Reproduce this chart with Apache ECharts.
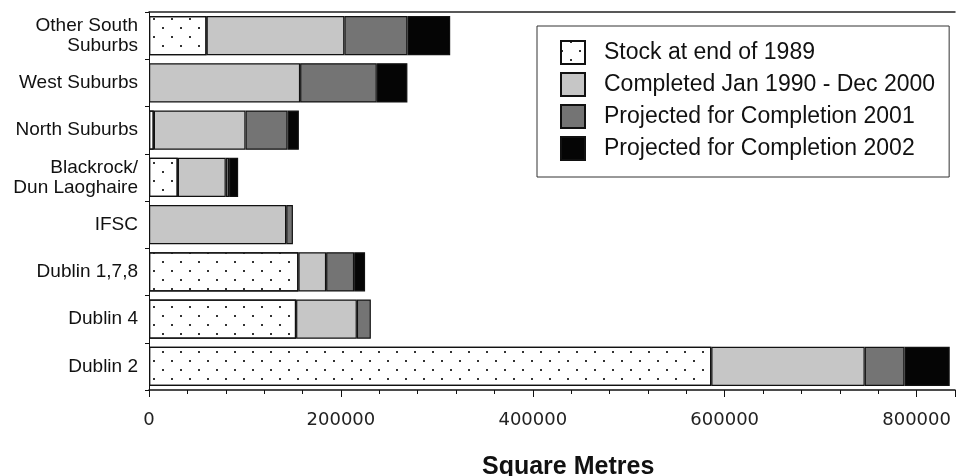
<!DOCTYPE html>
<html>
<head>
<meta charset="utf-8">
<script src="https://cdn.jsdelivr.net/npm/echarts@6/dist/echarts.min.js"></script>
<style>html,body{margin:0;padding:0;background:#fff}#c{width:958px;height:476px}</style>
</head>
<body>
<div id="c"></div>
<script>
// Categories, top to bottom
const categories = ['Other South\nSuburbs', 'West Suburbs', 'North Suburbs', 'Blackrock/\nDun Laoghaire', 'IFSC', 'Dublin 1,7,8', 'Dublin 4', 'Dublin 2'];
const seriesNames = ['Stock at end of 1989', 'Completed Jan 1990 - Dec 2000', 'Projected for Completion 2001', 'Projected for Completion 2002'];
const stock1989     = [60000, 0, 5000, 30000, 0, 155700, 153300, 586000];
const completed9000 = [143600, 157500, 95600, 50000, 143000, 28900, 63300, 159900];
const projected2001 = [65700, 79900, 43800, 3500, 7000, 29200, 14600, 41400];
const projected2002 = [44600, 31900, 11800, 9400, 0, 11400, 0, 47200];
const xTicks = [0, 200000, 400000, 600000, 800000];

const font = "'Liberation Sans', Arial, Helvetica, sans-serif";
const valuesList = [stock1989, completed9000, projected2001, projected2002];
const fills = ['#ffffff', '#c6c6c6', '#747474', '#050505'];
const dotDecal = {
  symbol: 'rect', symbolSize: 1, color: '#333',
  dashArrayX: [[2, 15.3], [0, 8.65, 2, 6.65]],
  dashArrayY: [2, 6.5]
};

const chart = echarts.init(document.getElementById('c'), null, {renderer: 'canvas'});
chart.setOption({
  animation: false,
  backgroundColor: '#fff',
  title: {
    text: 'Square Metres', left: 482, top: 455, padding: 0,
    textStyle: {fontFamily: font, fontSize: 25, fontWeight: 'bold', color: '#111'}
  },
  legend: {
    orient: 'vertical', left: 537, top: 26,
    padding: [14, 14, 16, 23],
    itemWidth: 24, itemHeight: 23, itemGap: 7,
    borderColor: '#333', borderWidth: 1,
    icon: 'rect',
    textStyle: {fontFamily: font, fontSize: 23, color: '#111', padding: [0, 0, 0, 14]},
    data: seriesNames
  },
  grid: {left: 149, right: 3, top: 12, bottom: 86, containLabel: false},
  xAxis: [{
    type: 'value', min: xTicks[0], max: 840000, interval: xTicks[1] - xTicks[0],
    axisLine: {show: true, lineStyle: {color: '#111', width: 1.5}},
    axisTick: {show: true, length: 7, lineStyle: {color: '#111'}},
    minorTick: {show: true, splitNumber: 5, length: 4, lineStyle: {color: '#111'}},
    splitLine: {show: false},
    axisLabel: {
      fontFamily: "'DejaVu Sans', sans-serif", fontSize: 18, color: '#222', margin: 21,
      showMaxLabel: false,
      formatter: v => xTicks.indexOf(v) >= 0 ? String(v) : ''
    }
  }, {
    type: 'value', position: 'top', min: 0, max: 840000,
    axisLine: {show: true, lineStyle: {color: '#222', width: 1.5}},
    axisTick: {show: false}, axisLabel: {show: false}, splitLine: {show: false}
  }],
  yAxis: {
    type: 'category', data: categories, inverse: true,
    axisLine: {show: true, lineStyle: {color: '#111', width: 1}},
    axisTick: {show: true, length: 4, lineStyle: {color: '#111'}},
    axisLabel: {fontFamily: font, fontSize: 19, color: '#111', margin: 11, lineHeight: 20, align: 'right'}
  },
  series: seriesNames.map((name, i) => ({
    name: name, type: 'bar', stack: 'total', xAxisIndex: 0,
    barCategoryGap: '17%',
    data: valuesList[i].map(v => v === 0 ? '-' : v),
    itemStyle: Object.assign({color: fills[i], borderColor: '#111', borderWidth: 1.2},
      i === 0 ? {decal: dotDecal} : {})
  }))
});
</script>
</body>
</html>
